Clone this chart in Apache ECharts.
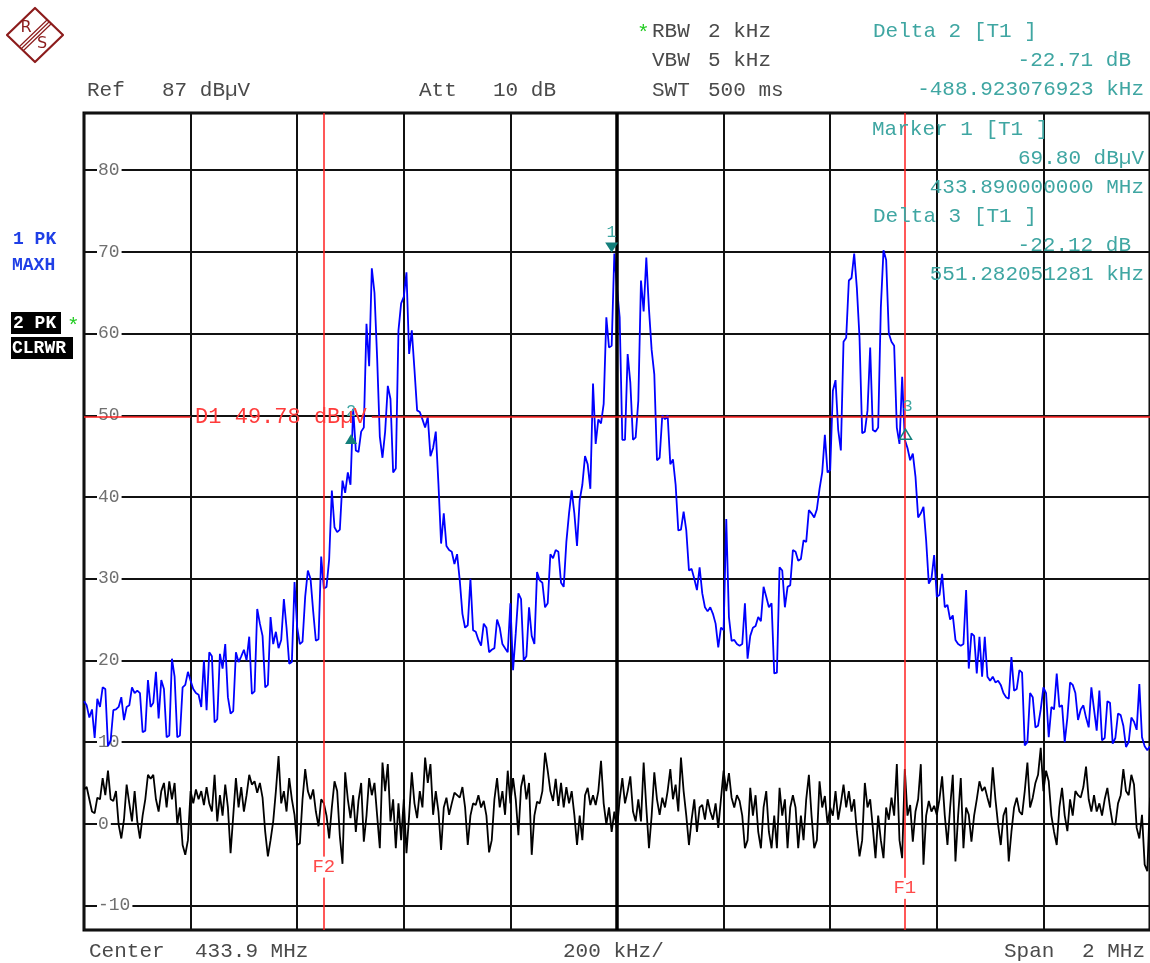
<!DOCTYPE html>
<html><head><meta charset="utf-8">
<script src="https://cdn.jsdelivr.net/npm/echarts@6/dist/echarts.min.js"></script>
<style>html,body{margin:0;padding:0;background:#fff}#c{width:1150px;height:963px}</style>
</head><body><div id="c"></div>
<script>
// ---- sweep settings ----
const startMHz = 432.9, stopMHz = 434.9, centerMHz = 433.9;
const refLevel = 87, bottomLevel = -13;
const sweepPoints = 401;

// ---- Trace 1 (1 PK, MAXH) dBµV, 401 sweep points ----
const trace1MaxHold = [
15,14.5,13,14,10.5,15.3,14.3,16.7,16.5,9.5,10.2,13.9,14,14.3,15.5,12.7,14.3,14.5,16.7,16,
16.3,16,11.2,11.4,17.6,14.3,14.8,18.6,12.9,17.6,16.5,10.6,10.8,20.2,18,10.6,10.8,16.7,17,18.6,
17.5,16.5,16,15.8,14.3,20,13.9,21,20.5,12.4,12.8,20.8,19,22,15.5,13.5,13.8,21,19.8,20.5,
21.3,20,22.9,15.9,16.2,26.3,24.5,23,16.7,17,25.3,22,23.5,21.5,22.5,27.5,24,19.6,19.8,29.6,
24,22,22.3,27.8,31,30,26,22.4,22.6,32.7,28.8,29,32.4,40.8,36.3,35.7,36,42,40.5,43,
41.5,50.8,45.7,45.5,48,48.5,61.2,56,68,65,57,47.4,44.8,48,53.6,52,43,43.5,60.4,63.7,
64.5,67.5,57.5,60.4,55.6,50.6,50.4,49.5,48.5,49.8,45,46,48,41.6,34.3,38,34,33.5,33.3,31.8,
33,29.8,25.7,24,24.3,30,23.7,23.5,22.5,21.8,24.5,24,21,21.3,21.5,25,24,22,21.5,21,
27,18.8,23.3,28.2,27.5,20,20.5,26.5,23,22,30.8,29.8,29.5,26.5,27,33,32.5,33.5,33.3,29.5,
29,34.5,38,40.8,38,34,39.6,41.5,45,44,41,53.9,46.5,49.5,49,51.4,62,58.3,58.5,69.8,
65.6,62,47,47,57.5,54,47,47.3,51.8,66.5,62.7,69.3,63,58,55,44.5,44.8,50,49.5,50,
44,44.6,41.5,35.9,36,38.2,35.9,31,31.2,30,28.6,31.4,28.2,26.5,26,26.5,25.7,24.5,21.6,24,
23.7,37.3,25.3,22.4,22.5,22,21.8,22,27,20.2,23,24,24.2,25.3,24.8,29,27.8,26.5,27,18.4,
18.5,31.4,31,26.5,29,29.2,33.5,33.3,32.2,32.4,34.7,34.5,38.4,38,37.5,38.5,41,43,47.6,43,
43.3,53,54.3,48.2,45.7,59,59.5,66.5,66.8,69.8,65.6,59.5,47.8,48,50.6,58.3,48.2,48,48.5,63.2,
70.2,69,60,59,58.5,48.5,46.5,54.7,47,46,44.5,45.3,42.5,37.5,38,38.8,34.7,29.4,30,32.9,
27.8,28,30.6,26.5,26.8,25,25.5,22.5,22,21.8,22,28.6,19,23.3,23,18.4,22.9,18,22.9,18,
17.5,18,17.3,17.5,17,16,15.5,15.3,20.4,16.3,16.5,18.8,18.5,9.6,10,16,15.5,11.8,12,14,
16.7,16,10.6,14.3,14,18.4,14.3,14.5,10,13,17.3,17,16,12.7,14,14.5,13,11.8,16.7,14,
11.4,16.3,10.2,10.5,15,14.8,9.8,10.5,13.5,13.3,12,9.4,10,13,12.5,11.5,17.1,10.6,9.5,9,
9.5
];

// ---- Trace 2 (2 PK, CLRWR) dBµV, 401 sweep points ----
const trace2ClearWrite = [
4.2,4.5,3,1.5,1.3,3.2,3,5.6,3.5,6.5,3,2.8,4,-0.1,-1.8,0.5,4.8,2.5,0.3,4,
0.3,-1.8,1,3,6,5.5,6,3,1.5,4,5,2,5.2,3,5,0,2,-2.6,-3.8,-2,
4,2.5,4.2,3,4,2.3,4.5,2.5,1.5,6,0.3,3.5,1,4.8,2,-3.6,1,5.6,2,4.5,
1.5,3.5,6,4.8,5.2,3.8,5,3.2,-1,-4,-2,0.3,4,8.3,2.5,4,1.5,5.6,3,1.1,
-2.6,-2.4,3,6.7,4,3,4.2,1.5,-0.3,3,2.5,1,-1.8,2,5.2,4,-1.5,-4.9,6.3,3,
0.7,3.5,-1,2.8,5,-2.2,1,5.6,3.5,5,1,-3,7.5,4,7.3,0.3,3,-3,2.5,-2,
3,-3.6,1,6.3,2.5,0.7,4,2,8.1,5,7.3,1.1,4,1.5,-3.2,2,3.2,1.1,2.5,3.8,
3.5,3.2,4.5,2,-2.6,1,2.5,2.3,3.5,2,2.8,1,-3.5,-2,3,5.6,2,4,1.1,6.5,
2.5,5.6,3,-1.4,4.5,6,3,5,-3.8,1,2.7,2.5,4,8.7,6.5,4,2.8,5.5,2.2,5,
2,4.5,2.5,4,1.1,-2.6,1,-2,3.5,4.4,2.3,3.5,2.3,4,7.7,2.5,-0.1,2,-1,1.5,
-0.7,3,5.6,2.5,4,5.8,1.5,0.3,3,0.3,7.5,2,-3,1,6.3,3,1.1,3.2,2,4,
6.7,3,4.8,1.5,8.1,4,1,-2.6,0.5,3,-1,2,2.3,0.5,3,1.5,0.5,2.5,-0.5,3,
6.5,4,6.2,3.2,2,3.5,2.8,1,-3,-2,4.4,1,3.5,-1,-3,2,4,-1,-3,1,
-3,4.4,1,3,-3,2,3.5,2,-3,1,-2,3,6,1,-3,-2,5.2,2,3.4,0,
2,1,4,0.5,2.5,4.8,2,4,1.5,3,-1,-4,-2,5,2,3,-0.5,-4.2,1,-2,
-4.2,2,0.5,3.2,1,7.3,-2,-4.2,6.7,1,2.3,-2.2,1.5,3,7.3,-5,1,2.8,1.5,2.2,
1.1,3,5.8,1,-2.6,2,6,-4.6,1,5.6,-3,2,1.1,-2.2,1,3,5.2,4,4.5,3.2,
2,6.9,3,-0.1,-2.6,1,2,-4.6,-1,2,3.2,1.5,1.1,4,7.5,2,3.2,5,6,9.3,
4,6.5,5.2,1,-1,-2.6,2,4.4,1,-0.9,3,1,4,3.5,3.2,4.5,7,3,1.5,3.5,
1.5,2.5,1,3,4.4,2,0,-0.1,2.5,3.5,6.7,4,3.5,6,4.8,-0.5,-1.8,1.1,-5,-5.8,
3.2
];

// ---- markers / lines ----
const marker1 = { freqMHz: 433.89, level: 69.80 };
const delta2 = { kHz: -488.923076923, dB: -22.71 };
const delta3 = { kHz: 551.282051281, dB: -22.12 };
const displayLine1 = 49.78;
const freqLine1 = 434.44, freqLine2 = 433.35;

const step = (stopMHz - startMHz) / (sweepPoints - 1);
const d1 = trace1MaxHold.map((v, i) => [startMHz + i * step, v]);
const d2 = trace2ClearWrite.map((v, i) => [startMHz + i * step, v]);
const m2 = [marker1.freqMHz + delta2.kHz / 1000, marker1.level + delta2.dB];
const m3 = [marker1.freqMHz + delta3.kHz / 1000, marker1.level + delta3.dB];

const MONO = '"Liberation Mono", "DejaVu Sans Mono", monospace';
const TEAL = '#3fa6a2', TEALD = '#137f7b', RED = '#ff2020', TXT = '#4a4a4a';

function T(text, x, y, color, size, align, weight) {
  return { type: 'text', x: x, y: y, silent: true, z: 100,
    style: { text: text, fill: color, font: (weight || 'normal') + ' ' + size + 'px ' + MONO,
      textAlign: align || 'left', textVerticalAlign: 'middle' } };
}

const graphics = [
  // R&S logo
  { type: 'polygon', shape: { points: [[7,35],[35,8],[63,35],[35,62]] }, style: { fill: 'none', stroke: '#8c1c1c', lineWidth: 2.2, lineJoin: 'round' } },
  { type: 'line', shape: { x1: 20, y1: 46, x2: 47, y2: 20 }, style: { stroke: '#8c1c1c', lineWidth: 1.2 } },
  { type: 'line', shape: { x1: 22, y1: 48, x2: 49, y2: 22 }, style: { stroke: '#8c1c1c', lineWidth: 1.2 } },
  { type: 'line', shape: { x1: 24, y1: 50, x2: 51, y2: 24 }, style: { stroke: '#8c1c1c', lineWidth: 1.2 } },
  { type: 'text', x: 26, y: 28, style: { text: 'R', fill: '#8c1c1c', font: '16px "DejaVu Sans"', textAlign: 'center', textVerticalAlign: 'middle' } },
  { type: 'text', x: 42, y: 44, style: { text: 'S', fill: '#8c1c1c', font: '16px "DejaVu Sans"', textAlign: 'center', textVerticalAlign: 'middle' } },
  // header
  T('Ref', 87, 90, TXT, 21), T('87 dBµV', 162, 90, TXT, 21),
  T('Att', 419, 90, TXT, 21), T('10 dB', 493, 90, TXT, 21),
  T('*', 637, 33, '#22cc22', 21), T('RBW', 652, 31, TXT, 21), T('2 kHz', 708, 31, TXT, 21),
  T('VBW', 652, 60, TXT, 21), T('5 kHz', 708, 60, TXT, 21),
  T('SWT', 652, 90, TXT, 21), T('500 ms', 708, 90, TXT, 21),
  T('Delta 2 [T1 ]', 873, 31, TEAL, 21),
  T('-22.71 dB', 1131, 60, TEAL, 21, 'right'),
  T('-488.923076923 kHz', 1144, 89, TEAL, 21, 'right'),
  T('Marker 1 [T1 ]', 872, 129, TEAL, 21),
  T('69.80 dBµV', 1144, 158, TEAL, 21, 'right'),
  T('433.890000000 MHz', 1144, 187, TEAL, 21, 'right'),
  T('Delta 3 [T1 ]', 873, 216, TEAL, 21),
  T('-22.12 dB', 1131, 245, TEAL, 21, 'right'),
  T('551.282051281 kHz', 1144, 274, TEAL, 21, 'right'),
  // left trace info
  T('1 PK', 13, 239, '#1f3fe6', 18, 'left', 'bold'),
  T('MAXH', 12, 265, '#1f3fe6', 18, 'left', 'bold'),
  { type: 'rect', shape: { x: 11, y: 312, width: 50, height: 22 }, style: { fill: '#000' } },
  T('2 PK', 13, 323, '#fff', 18, 'left', 'bold'),
  T('*', 67, 326, '#22cc22', 21),
  { type: 'rect', shape: { x: 11, y: 337, width: 62, height: 22 }, style: { fill: '#000' } },
  T('CLRWR', 12, 348, '#fff', 18, 'left', 'bold'),
  // bottom
  T('Center', 89, 951, TXT, 21), T('433.9 MHz', 195, 951, TXT, 21),
  T('200 kHz/', 563, 951, TXT, 21),
  T('Span', 1004, 951, TXT, 21), T('2 MHz', 1145, 951, TXT, 21, 'right')
];

const chart = echarts.init(document.getElementById('c'));
chart.setOption({
  animation: false,
  backgroundColor: '#fff',
  grid: { left: 84, right: 0, top: 113, bottom: 33, show: true, borderColor: '#000', borderWidth: 3, backgroundColor: '#fff' },
  xAxis: {
    type: 'value', min: startMHz, max: stopMHz, interval: 0.2,
    axisLine: { show: false }, axisTick: { show: false }, axisLabel: { show: false },
    splitLine: { show: true, lineStyle: { color: '#111', width: 2 } }
  },
  yAxis: {
    type: 'value', min: bottomLevel, max: refLevel, splitNumber: 10,
    axisLine: { show: false }, axisTick: { show: false },
    axisLabel: { inside: true, margin: 13, color: '#707070', fontFamily: MONO, fontSize: 18,
      showMinLabel: false, showMaxLabel: false, backgroundColor: '#fff', padding: [0, 2, 0, 1] },
    splitLine: { show: true, lineStyle: { color: '#111', width: 2 } }
  },
  graphic: { elements: graphics },
  series: [
    {
      name: 'Trace 2', type: 'line', data: d2, symbol: 'none', z: 3,
      lineStyle: { color: '#000', width: 1.8 },
      markLine: { silent: true, symbol: 'none', label: { show: false },
        lineStyle: { color: '#000', width: 3.5, type: 'solid' },
        data: [{ xAxis: centerMHz }] }
    },
    {
      name: 'Trace 1', type: 'line', data: d1, symbol: 'none', z: 4,
      lineStyle: { color: '#0000ff', width: 1.8 },
      markLine: { silent: true, symbol: 'none', label: { show: false },
        lineStyle: { color: RED, width: 1.5, type: 'solid' },
        data: [
          { xAxis: freqLine2 }, { xAxis: freqLine1 },
          [{ coord: [startMHz, displayLine1] }, { coord: [433.1, displayLine1] }],
          [{ coord: [433.44, displayLine1] }, { coord: [stopMHz, displayLine1] }]
        ] },
      markPoint: {
        silent: true,
        data: [
          { coord: [marker1.freqMHz, marker1.level], symbol: 'triangle', symbolRotate: 180, symbolSize: [13, 10], symbolOffset: [0, -6],
            itemStyle: { color: TEALD }, label: { show: true, position: 'top', distance: 2, formatter: '1', color: TEAL, fontFamily: MONO, fontSize: 17 } },
          { coord: m2, symbol: 'triangle', symbolSize: [12, 10],
            itemStyle: { color: TEALD }, label: { show: true, position: 'top', distance: 14, formatter: '2', color: TEAL, fontFamily: MONO, fontSize: 17 } },
          { coord: m3, symbol: 'triangle', symbolSize: [12, 10],
            itemStyle: { color: 'rgba(0,0,0,0)', borderColor: TEALD, borderWidth: 1.5 }, label: { show: true, position: 'top', distance: 14, offset: [2, 0], formatter: '3', color: TEAL, fontFamily: MONO, fontSize: 17 } },
          { coord: [433.1, displayLine1], symbol: 'rect', symbolSize: 1, itemStyle: { color: 'rgba(0,0,0,0)' },
            label: { show: true, position: 'right', distance: 4, formatter: 'D1 49.78 dBµV', color: '#ff3b3b', fontFamily: MONO, fontSize: 22 } },
          { coord: [freqLine2, -5.3], symbol: 'rect', symbolSize: 1, itemStyle: { color: 'rgba(0,0,0,0)' },
            label: { show: true, position: 'inside', formatter: 'F2', color: '#ff4a4a', fontFamily: MONO, fontSize: 19, backgroundColor: '#fff', padding: [1, 1] } },
          { coord: [freqLine1, -7.9], symbol: 'rect', symbolSize: 1, itemStyle: { color: 'rgba(0,0,0,0)' },
            label: { show: true, position: 'inside', formatter: 'F1', color: '#ff4a4a', fontFamily: MONO, fontSize: 19, backgroundColor: '#fff', padding: [1, 1] } }
        ]
      }
    }
  ]
});
</script>
</body></html>
